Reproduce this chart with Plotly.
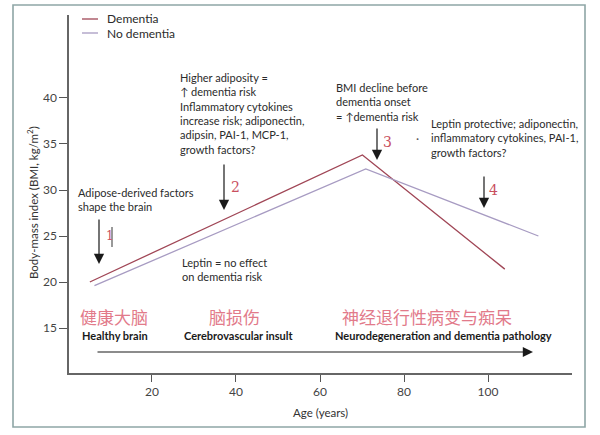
import plotly.graph_objects as go

# ---------------- data ----------------
age_dementia = [5.2, 70.1, 104.0]
bmi_dementia = [20.0, 33.8, 21.4]
age_no_dementia = [6.3, 70.9, 112.0]
bmi_no_dementia = [19.6, 32.3, 25.0]
series_names = ["Dementia", "No dementia"]
x_ticks = [20, 40, 60, 80, 100]
y_ticks = [15, 20, 25, 30, 35, 40]
stage_cn = ["健康大脑", "脑损伤", "神经退行性病变与痴呆"]
stage_en = ["Healthy brain", "Cerebrovascular insult", "Neurodegeneration and dementia pathology"]
notes = [
    "Adipose-derived factors<br>shape the brain",
    "Higher adiposity =<br>↑ dementia risk<br>Inflammatory cytokines<br>increase risk; adiponectin,<br>adipsin, PAI-1, MCP-1,<br>growth factors?",
    "Leptin = no effect<br>on dementia risk",
    "BMI decline before<br>dementia onset<br>= ↑dementia risk",
    "Leptin protective; adiponectin,<br>inflammatory cytokines, PAI-1,<br>growth factors?",
]
markers = ["1", "2", "3", "4"]

# ---------------- geometry helpers ----------------
XMIN, XMAX = 0.24, 120
YMIN, YMAX = 10.11, 49.02
L, R, T, B = 69, 572, 15, 373
W, H = 600, 435


def dx(px):
    return XMIN + (px - L) / (R - L) * (XMAX - XMIN)


def dy(py):
    return YMIN + (B - py) / (B - T) * (YMAX - YMIN)


def pxp(px):
    return (px - L) / (R - L)


def pyp(py):
    return (B - py) / (B - T)


FONT = "Lato, Liberation Sans, sans-serif"
CJK = "Noto Sans CJK SC"
C_DEM = "#a04656"
C_NODEM = "#a79bc2"
C_TXT = "#2b2b2b"
C_NUM = "#c9505f"
C_CN = "#e27a8a"

fig = go.Figure()
fig.add_trace(go.Scatter(x=age_dementia, y=bmi_dementia, mode="lines",
                         line=dict(color=C_DEM, width=1.3), name=series_names[0],
                         showlegend=False))
fig.add_trace(go.Scatter(x=age_no_dementia, y=bmi_no_dementia, mode="lines",
                         line=dict(color=C_NODEM, width=1.3), name=series_names[1],
                         showlegend=False))

ann = []
shapes = []

# legend (manual)
for nm, col, yy in [(series_names[0], C_DEM, 19), (series_names[1], C_NODEM, 33)]:
    shapes.append(dict(type="line", xref="paper", yref="paper", x0=pxp(82), x1=pxp(98),
                       y0=pyp(yy), y1=pyp(yy), line=dict(color=col, width=1.3)))
    ann.append(dict(xref="paper", yref="paper", x=pxp(105), y=pyp(yy), text=nm,
                    xanchor="left", yanchor="middle", showarrow=False,
                    font=dict(family=FONT, size=12, color=C_TXT)))

# notes
note_pos = [(77, 199.5), (179, 113), (181, 269.5), (335, 101.5), (430, 137.5)]
for t, (x, y) in zip(notes, note_pos):
    ann.append(dict(x=dx(x), y=dy(y), text=t, xanchor="left", yanchor="middle", align="left",
                    showarrow=False, borderpad=0,
                    font=dict(family=FONT, size=11, color=C_TXT)))

# vertical arrows
arrows = [(99, 218, 264), (224, 163, 210), (377, 127, 160), (484, 175, 208)]
for (x, y0, y1) in arrows:
    ann.append(dict(x=dx(x), y=dy(y1), ax=dx(x), ay=dy(y0), axref="x", ayref="y",
                    text="", showarrow=True, arrowhead=2, arrowsize=1.7, arrowwidth=1.2,
                    arrowcolor="#1a1a1a"))

# numbers
num_pos = [(104, 236, 12), (229, 187, 14), (381, 142, 14), (487, 190, 14)]
for t, (x, y, s) in zip(markers, num_pos):
    ann.append(dict(x=dx(x), y=dy(y), text=t, xanchor="left", yanchor="middle", showarrow=False,
                    font=dict(family="DejaVu Serif, Liberation Serif, serif", size=s, color=C_NUM)))
shapes.append(dict(type="line", x0=dx(112), x1=dx(112), y0=dy(227), y1=dy(247),
                   line=dict(color="#555555", width=1.2)))
ann.append(dict(x=dx(417), y=dy(138), text="·", showarrow=False,
                font=dict(family=FONT, size=12, color="#555555")))

# stage labels
cn_pos = [(78, 316), (207, 316), (340, 316)]
en_pos = [(80, 335), (182, 335), (333, 335)]
for t, (x, y) in zip(stage_cn, cn_pos):
    ann.append(dict(x=dx(x), y=dy(y), text=t, xanchor="left", yanchor="middle", showarrow=False,
                    font=dict(family=CJK, size=17, color=C_CN)))
for t, (x, y) in zip(stage_en, en_pos):
    ann.append(dict(x=dx(x), y=dy(y), text="<b>" + t + "</b>", xanchor="left", yanchor="middle",
                    showarrow=False, font=dict(family=FONT, size=11, color="#1a1a1a")))

# horizontal timeline arrow
ann.append(dict(x=dx(533), y=dy(352), ax=dx(96), ay=dy(352), axref="x", ayref="y",
                text="", showarrow=True, arrowhead=2, arrowsize=1.7, arrowwidth=1.2,
                arrowcolor="#1a1a1a"))

# axis titles
ann.append(dict(xref="paper", yref="paper", x=pxp(320), y=pyp(412), text="Age (years)",
                showarrow=False, xanchor="center", yanchor="middle",
                font=dict(family=FONT, size=11.5, color="#333333")))
ann.append(dict(xref="paper", yref="paper", x=pxp(32), y=pyp(203),
                text="Body-mass index (BMI, kg/m<sup>2</sup>)", textangle=-90,
                showarrow=False, xanchor="center", yanchor="middle",
                font=dict(family=FONT, size=11.5, color="#333333")))

# outer frame
shapes.append(dict(type="rect", xref="paper", yref="paper", x0=pxp(13), x1=pxp(585),
                   y0=pyp(427), y1=pyp(5), line=dict(color="#8ea6a6", width=1.6),
                   fillcolor="rgba(0,0,0,0)", layer="below"))

fig.update_layout(
    width=W, height=H,
    margin=dict(l=L, r=W - R, t=T, b=H - B),
    paper_bgcolor="white", plot_bgcolor="white",
    showlegend=False,
    annotations=ann, shapes=shapes,
    xaxis=dict(range=[XMIN, XMAX], tickvals=x_ticks, ticks="outside", ticklen=7,
               tickcolor="#555555", tickwidth=1.3, showline=True, linecolor="#666666",
               linewidth=1.5, showgrid=False, zeroline=False,
               tickfont=dict(family=FONT, size=12, color="#444444")),
    yaxis=dict(range=[YMIN, YMAX], tickvals=y_ticks, ticks="outside", ticklen=8,
               tickcolor="#555555", tickwidth=1.3, showline=True, linecolor="#666666",
               linewidth=1.5, showgrid=False, zeroline=False,
               tickfont=dict(family=FONT, size=12, color="#444444")),
)

fig.write_html("out.html", config={"displayModeBar": False},
               post_script="document.body.style.margin='0';")
